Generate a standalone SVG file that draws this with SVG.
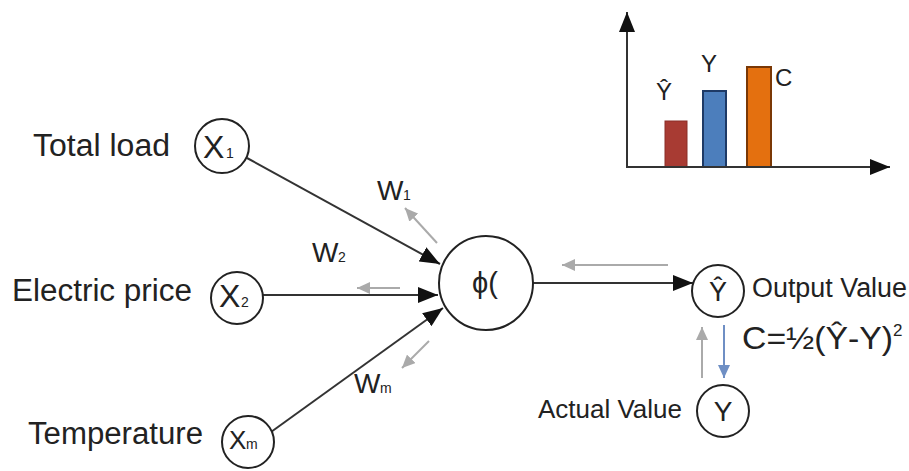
<svg xmlns="http://www.w3.org/2000/svg" width="909" height="471" viewBox="0 0 909 471">
<defs>
<style>
text{font-family:"Liberation Sans",Arial,sans-serif;fill:#222}
.lbl{font-size:31px}
.node{fill:#fff;stroke:#222;stroke-width:2}
.sym{font-size:32px}
.sub{font-size:14px}
.w{font-size:28px}
.conn{stroke:#333;stroke-width:2;fill:none}
.back{stroke:#aaa;stroke-width:2;fill:none}
.blue{stroke:#6f8fc4;stroke-width:2;fill:none}
</style>
<marker id="ab" markerUnits="userSpaceOnUse" markerWidth="22" markerHeight="16" refX="20" refY="8" orient="auto"><path d="M0,0 L20,8 L0,16 Z" fill="#111"/></marker>
<marker id="ag" markerUnits="userSpaceOnUse" markerWidth="14" markerHeight="12" refX="13" refY="6" orient="auto"><path d="M0,0 L13,6 L0,12 Z" fill="#aaa"/></marker>
<marker id="abl" markerUnits="userSpaceOnUse" markerWidth="14" markerHeight="12" refX="13" refY="6" orient="auto"><path d="M0,0 L13,6 L0,12 Z" fill="#6f8fc4"/></marker>
</defs>
<rect width="909" height="471" fill="#fff"/>

<g id="connectors">
<line class="conn" x1="247" y1="158" x2="440" y2="264" marker-end="url(#ab)"/>
<line class="conn" x1="263" y1="295" x2="438" y2="295" marker-end="url(#ab)"/>
<line class="conn" x1="271" y1="432" x2="443" y2="308" marker-end="url(#ab)"/>
<line class="conn" x1="533" y1="283" x2="693" y2="283" marker-end="url(#ab)"/>
<line class="back" x1="437" y1="243" x2="405" y2="208" marker-end="url(#ag)"/>
<line class="back" x1="400" y1="288" x2="357" y2="288" marker-end="url(#ag)"/>
<line class="back" x1="429" y1="341" x2="402" y2="368" marker-end="url(#ag)"/>
<line class="back" x1="668" y1="265" x2="562" y2="265" marker-end="url(#ag)"/>
<line class="back" x1="702" y1="378" x2="702" y2="327" marker-end="url(#ag)"/>
<line class="blue" x1="724" y1="325" x2="724" y2="378" marker-end="url(#abl)"/>
</g>

<g id="x1">
<text class="lbl" x="33" y="156" textLength="137" lengthAdjust="spacingAndGlyphs">Total load</text>
<circle class="node" cx="222" cy="146" r="27"/>
<text class="sym" x="203" y="158">X</text><text class="sub" x="226" y="158">1</text>
</g>
<g id="x2">
<text class="lbl" x="12" y="301" textLength="180" lengthAdjust="spacingAndGlyphs">Electric price</text>
<circle class="node" cx="237" cy="298" r="26"/>
<text class="sym" x="219" y="307">X</text><text class="sub" x="241" y="307">2</text>
</g>
<g id="xm">
<text class="lbl" x="28" y="444" textLength="175" lengthAdjust="spacingAndGlyphs">Temperature</text>
<circle class="node" cx="248" cy="442" r="26"/>
<text class="sym" x="229" y="449" style="font-size:26px">X</text><text class="sub" x="246" y="449">m</text>
</g>

<g id="weights">
<text class="w" x="377" y="200">W</text><text class="sub" x="403" y="200">1</text>
<text class="w" x="312" y="262">W</text><text class="sub" x="338" y="262">2</text>
<text class="w" x="354" y="393">W</text><text class="sub" x="380" y="393">m</text>
</g>

<g id="phi">
<circle class="node" cx="486" cy="283" r="47"/>
<text x="485" y="293" text-anchor="middle" style="font-size:29px">ϕ(</text>
</g>

<g id="output">
<circle class="node" cx="718" cy="291" r="26"/>
<text x="718" y="301" text-anchor="middle" style="font-size:27px">Ŷ</text>
<text x="752" y="297" style="font-size:27px" textLength="155" lengthAdjust="spacingAndGlyphs">Output Value</text>
</g>

<g id="cost">
<text x="742" y="349" style="font-size:31px" textLength="151" lengthAdjust="spacingAndGlyphs">C=½(Ŷ-Y)</text>
<text x="893" y="336" style="font-size:17px">2</text>
</g>

<g id="actual">
<circle class="node" cx="723" cy="411" r="26"/>
<text x="723" y="421" text-anchor="middle" style="font-size:28px">Y</text>
<text x="538" y="418" style="font-size:26px" textLength="144" lengthAdjust="spacingAndGlyphs">Actual Value</text>
</g>

<g id="chart">
<rect x="665" y="121" width="22" height="46" fill="#a83b33" stroke="#8a2e28" stroke-width="1"/>
<rect x="703" y="91" width="23" height="76" fill="#4c7ebc" stroke="#1e3a66" stroke-width="2"/>
<rect x="747" y="67" width="24" height="100" fill="#e4700f" stroke="#7a3805" stroke-width="2"/>
<line class="conn" x1="627" y1="167" x2="627" y2="12" marker-end="url(#ab)"/>
<line class="conn" x1="626" y1="167" x2="890" y2="167" marker-end="url(#ab)"/>
<text x="664" y="100" text-anchor="middle" style="font-size:24px">Ŷ</text>
<text x="709" y="72" text-anchor="middle" style="font-size:24px">Y</text>
<text x="775" y="86" style="font-size:24px">C</text>
</g>
</svg>
